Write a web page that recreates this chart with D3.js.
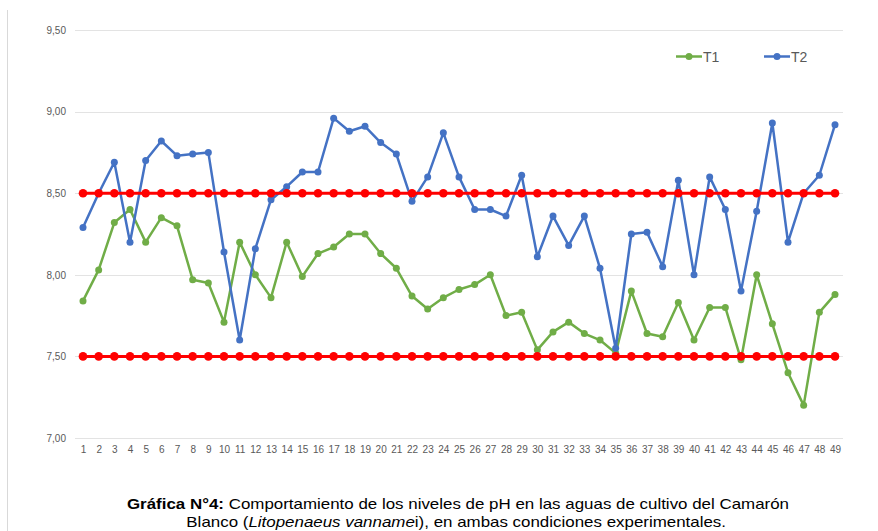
<!DOCTYPE html>
<html>
<head>
<meta charset="utf-8">
<script src="https://cdn.jsdelivr.net/npm/d3@7"></script>
<style>
  body { margin: 0; background: #fff; }
  svg { display: block; }
</style>
</head>
<body>
<svg id="chart" width="878" height="531"></svg>
<script>
const days = d3.range(1, 50);
const t1 = [7.84, 8.03, 8.32, 8.40, 8.20, 8.35, 8.30, 7.97, 7.95, 7.71,
            8.20, 8.00, 7.86, 8.20, 7.99, 8.13, 8.17, 8.25, 8.25, 8.13,
            8.04, 7.87, 7.79, 7.86, 7.91, 7.94, 8.00, 7.75, 7.77, 7.54,
            7.65, 7.71, 7.64, 7.60, 7.52, 7.90, 7.64, 7.62, 7.83, 7.60,
            7.80, 7.80, 7.48, 8.00, 7.70, 7.40, 7.20, 7.77, 7.88];
const t2 = [8.29, 8.50, 8.69, 8.20, 8.70, 8.82, 8.73, 8.74, 8.75, 8.14,
            7.60, 8.16, 8.46, 8.54, 8.63, 8.63, 8.96, 8.88, 8.91, 8.81,
            8.74, 8.45, 8.60, 8.87, 8.60, 8.40, 8.40, 8.36, 8.61, 8.11,
            8.36, 8.18, 8.36, 8.04, 7.55, 8.25, 8.26, 8.05, 8.58, 8.00,
            8.60, 8.40, 7.90, 8.39, 8.93, 8.20, 8.50, 8.61, 8.92];
const upperLimit = days.map(() => 8.5);
const lowerLimit = days.map(() => 7.5);
const yTicks = [7.0, 7.5, 8.0, 8.5, 9.0, 9.5];

const svg = d3.select("#chart");

// frame line at left
svg.append("line").attr("x1", 7.5).attr("x2", 7.5).attr("y1", 10).attr("y2", 531)
  .attr("stroke", "#d9d9d9").attr("stroke-width", 1);

const x = d3.scalePoint().domain(days).range([83, 835]);
const y = d3.scaleLinear().domain([7.0, 9.5]).range([438, 30]);

// gridlines
svg.append("g").selectAll("line").data(yTicks).join("line")
  .attr("x1", 75).attr("x2", 843)
  .attr("y1", d => Math.round(y(d)) + 0.5).attr("y2", d => Math.round(y(d)) + 0.5)
  .attr("stroke", "#e3e3e3").attr("stroke-width", 1);

// y axis labels
const yAxis = d3.axisLeft(y).tickValues(yTicks).tickSize(0).tickPadding(0)
  .tickFormat(d => d3.format(".2f")(d).replace(".", ","));
svg.append("g").attr("transform", "translate(66,0)").call(yAxis)
  .call(g => g.select(".domain").remove())
  .selectAll("text").attr("font-family", "Liberation Sans, Arial, sans-serif")
  .attr("font-size", 10).attr("fill", "#595959");

// x axis labels
const xAxis = d3.axisBottom(x).tickSize(0).tickPadding(0);
svg.append("g").attr("transform", "translate(0,446)").call(xAxis)
  .call(g => g.select(".domain").remove())
  .selectAll("text").attr("font-family", "Liberation Sans, Arial, sans-serif")
  .attr("font-size", 10).attr("fill", "#595959");

function series(vals, color, lw, r) {
  const line = d3.line().x((d, i) => x(days[i])).y(d => y(d));
  const g = svg.append("g");
  g.append("path").datum(vals).attr("d", line).attr("fill", "none")
    .attr("stroke", color).attr("stroke-width", lw).attr("stroke-linejoin", "round");
  g.selectAll("circle").data(vals).join("circle")
    .attr("cx", (d, i) => x(days[i])).attr("cy", d => y(d)).attr("r", r)
    .attr("fill", color);
}
series(t1, "#70AD47", 2.5, 3.5);
series(t2, "#4472C4", 2.5, 3.5);
series(upperLimit, "#FF0000", 3, 4.3);
series(lowerLimit, "#FF0000", 3, 4.3);

// legend
const legend = [{name: "T1", color: "#70AD47", x0: 676}, {name: "T2", color: "#4472C4", x0: 764}];
const lg = svg.append("g");
legend.forEach(l => {
  lg.append("line").attr("x1", l.x0).attr("x2", l.x0 + 26).attr("y1", 56.5).attr("y2", 56.5)
    .attr("stroke", l.color).attr("stroke-width", 2.5);
  lg.append("circle").attr("cx", l.x0 + 13).attr("cy", 56.5).attr("r", 3.5).attr("fill", l.color);
  lg.append("text").attr("x", l.x0 + 27).attr("y", 61.5).text(l.name)
    .attr("font-family", "Liberation Sans, Arial, sans-serif").attr("font-size", 14)
    .attr("fill", "#595959");
});

// caption (horizontally stretched as in the reference)
const capG = svg.append("g").attr("transform", "translate(458,0) scale(1.21,1)");
const cap = capG.append("text").attr("text-anchor", "middle")
  .attr("font-family", "Liberation Sans, Arial, sans-serif").attr("font-size", 14).attr("fill", "#000");
const l1 = cap.append("tspan").attr("x", 0).attr("y", 509);
l1.append("tspan").attr("font-weight", "bold").text("Gráfica N°4:");
l1.append("tspan").text(" Comportamiento de los niveles de pH en las aguas de cultivo del Camarón");
const l2 = cap.append("tspan").attr("x", -1.5).attr("y", 527);
l2.append("tspan").text("Blanco (");
l2.append("tspan").attr("font-style", "italic").text("Litopenaeus vanname");
l2.append("tspan").text("i), en ambas condiciones experimentales.");
</script>
</body>
</html>
